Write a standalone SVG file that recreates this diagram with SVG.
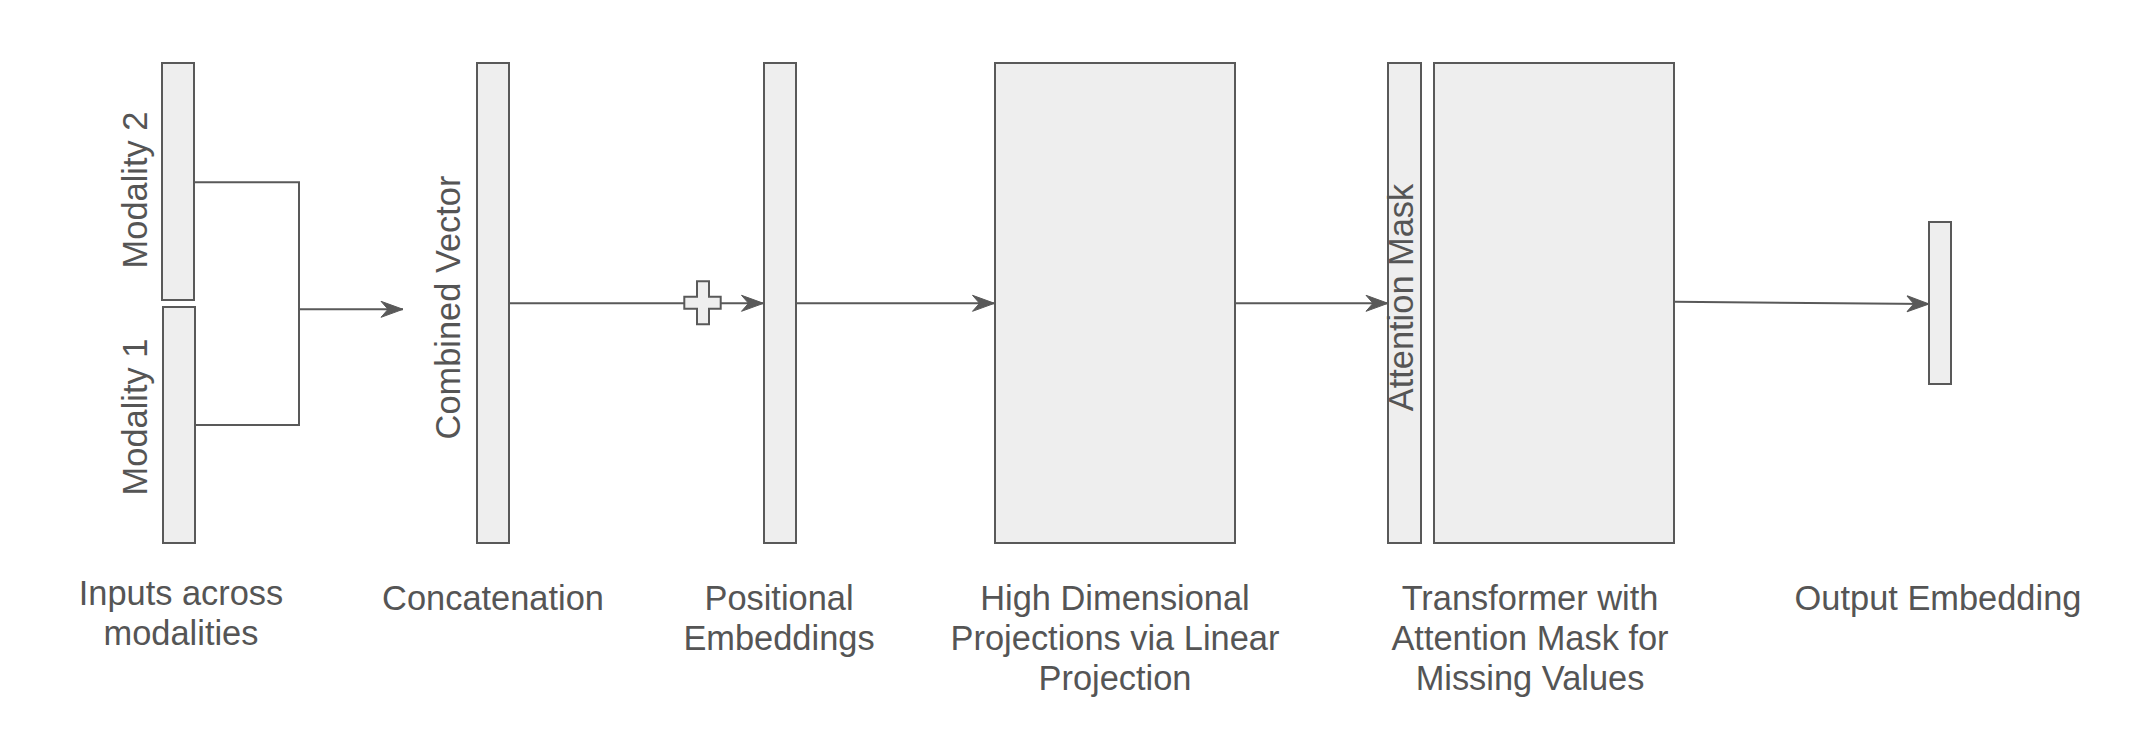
<svg xmlns="http://www.w3.org/2000/svg" width="2154" height="752" viewBox="0 0 2154 752">
<style>
.box{fill:#eeeeee;stroke:#595959;stroke-width:2}
.edge{fill:none;stroke:#595959;stroke-width:2}
.lbl{font-family:"Liberation Sans",Arial,sans-serif;font-size:34.4px;fill:#555555;text-anchor:middle}
</style>
<defs>
<marker id="arr" markerUnits="userSpaceOnUse" markerWidth="26" markerHeight="20" viewBox="-24 -10 26 20" refX="0" refY="0" orient="auto">
<path d="M0,0 L-22,-8 L-15,0 L-22,8 Z" fill="#595959" stroke="#595959" stroke-width="1"/>
</marker>
</defs>
<rect width="2154" height="752" fill="#ffffff"/>
<g id="connectors">
<path class="edge" d="M194,182.3 H299 V425 H195"/>
<path class="edge" d="M299,309.3 H403" marker-end="url(#arr)"/>
<path class="edge" d="M509,303.3 H763.5" marker-end="url(#arr)"/>
<path class="edge" d="M796,303.3 H994.5" marker-end="url(#arr)"/>
<path class="edge" d="M1235,303.3 H1388" marker-end="url(#arr)"/>
<path class="edge" d="M1674,301.7 L1929,304" marker-end="url(#arr)"/>
</g>
<g id="modality2">
<rect class="box" x="162" y="63" width="32" height="237"/>
<text class="lbl" transform="translate(146.7,190) rotate(-90)">Modality 2</text>
</g>
<g id="modality1">
<rect class="box" x="163" y="307" width="32" height="236"/>
<text class="lbl" transform="translate(146.7,417) rotate(-90)">Modality 1</text>
</g>
<g id="combined">
<rect class="box" x="477" y="63" width="32" height="480"/>
<text class="lbl" transform="translate(460,307.5) rotate(-90)">Combined Vector</text>
</g>
<g id="plus">
<path class="box" d="M697,281.3 H709 V296.7 H720.7 V308.7 H709 V324.3 H697 V308.7 H684.3 V296.7 H697 Z"/>
</g>
<g id="positional">
<rect class="box" x="764" y="63" width="32" height="480"/>
</g>
<g id="projection">
<rect class="box" x="995" y="63" width="240" height="480"/>
</g>
<g id="attention">
<rect class="box" x="1388" y="63" width="33" height="480"/>
<text class="lbl" transform="translate(1413.3,297.5) rotate(-90)">Attention Mask</text>
</g>
<g id="transformer">
<rect class="box" x="1434" y="63" width="240" height="480"/>
</g>
<g id="output">
<rect class="box" x="1929" y="222" width="22" height="162"/>
</g>
<g id="labels">
<text class="lbl" x="181" y="605">Inputs across</text>
<text class="lbl" x="181" y="645">modalities</text>
<text class="lbl" x="493" y="610">Concatenation</text>
<text class="lbl" x="779" y="610">Positional</text>
<text class="lbl" x="779" y="650">Embeddings</text>
<text class="lbl" x="1115" y="610">High Dimensional</text>
<text class="lbl" x="1115" y="650">Projections via Linear</text>
<text class="lbl" x="1115" y="690">Projection</text>
<text class="lbl" x="1530" y="610">Transformer with</text>
<text class="lbl" x="1530" y="650">Attention Mask for</text>
<text class="lbl" x="1530" y="690">Missing Values</text>
<text class="lbl" x="1938" y="610">Output Embedding</text>
</g>
</svg>
